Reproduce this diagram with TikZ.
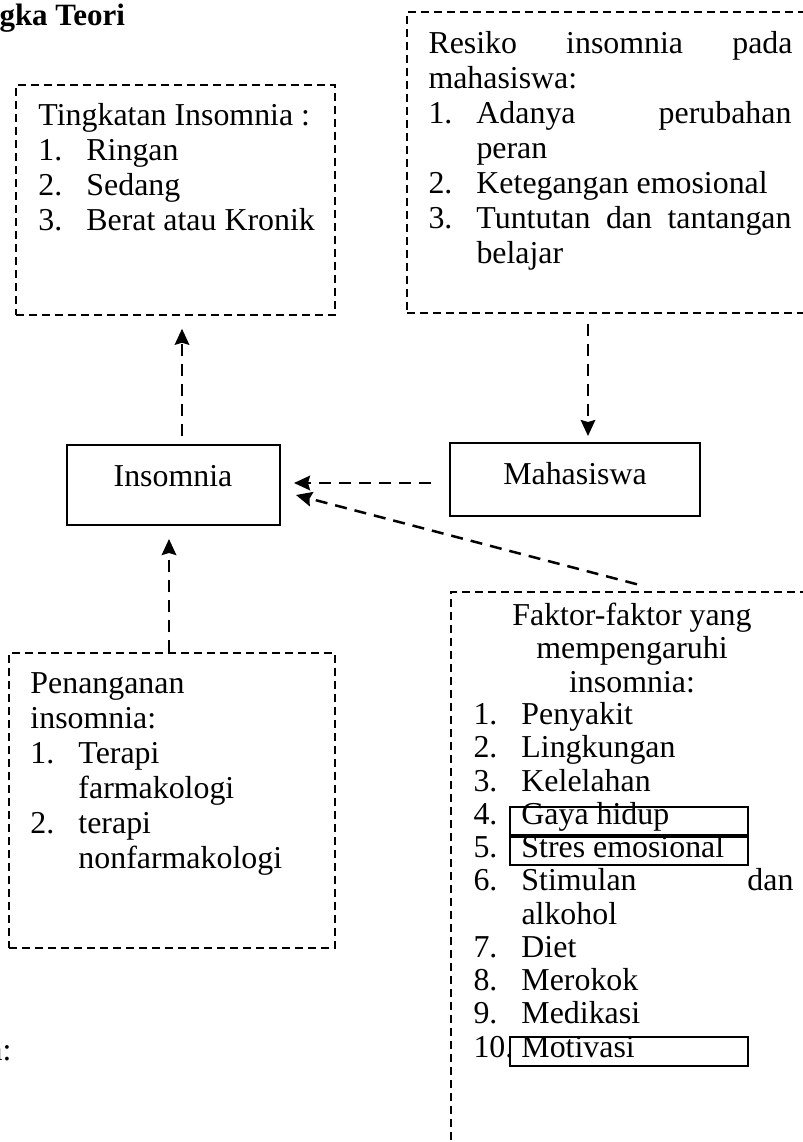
\documentclass[tikz,border=0pt]{standalone}
\usepackage{fontspec}
\setmainfont{Liberation Serif}
\usetikzlibrary{arrows.meta,fit}

\newcommand{\itm}[1]{\makebox[19.2pt][l]{#1}}
\newcommand{\ind}{\hspace*{19.2pt}}
\newcommand{\jline}[2]{\makebox[#1][s]{#2}}

\tikzset{
  dbox/.style={draw, dash pattern=on 3.2pt off 2pt, line width=0.6pt, inner sep=0pt},
  sbox/.style={draw, line width=0.8pt, inner sep=0pt},
  kbox/.style={draw, line width=0.5pt, inner sep=0pt},
  txt/.style={inner sep=0pt, align=left, anchor=base west, font=\fontsize{12.75}{14}\selectfont},
  arr/.style={-{Stealth[length=6.4pt,width=5.8pt,inset=0.8pt]}, line width=1pt, dash pattern=on 4.8pt off 3.2pt},
}

\begin{document}
\begin{tikzpicture}[x=0.4pt, y=-0.4pt]
\useasboundingbox (0,0) rectangle (802,1142);

% judul dan keterangan
\node[txt, font=\fontsize{12.4}{14}\selectfont\bfseries] (judul) at (-1,25) {gka Teori};
\node[txt, anchor=base east] (ket) at (12,1060) {n:};

% kotak putus-putus
\node[dbox, fit={(16,85) (335,315)}] (tingkat) {};
\node[dbox, fit={(407,12) (820,313)}] (resiko) {};
\node[dbox, fit={(9,653) (335,948)}] (penanganan) {};
\node[dbox, fit={(451,592) (820,1160)}] (faktor) {};

% kotak utama
\node[sbox, fit={(67,445) (280,525)}] (insomnia) {};
\node[sbox, fit={(450,443) (700,516)}] (mahasiswa) {};
\node[txt, anchor=base] (insomniaLbl) at (173,486) {Insomnia};
\node[txt, anchor=base] (mahasiswaLbl) at (575,484) {Mahasiswa};

% isi kotak (titik = garis dasar baris terakhir)
\node[txt] (tingkatTxt) at (38,230) {Tingkatan Insomnia :\\
  \itm{1.}Ringan\\
  \itm{2.}Sedang\\
  \itm{3.}Berat atau Kronik};

\node[txt] (resikoTxt) at (428,263) {\jline{145.6pt}{Resiko insomnia pada}\\
  mahasiswa:\\
  \itm{1.}\jline{126pt}{Adanya perubahan}\\
  \ind peran\\
  \itm{2.}Ketegangan emosional\\
  \itm{3.}\jline{126pt}{Tuntutan dan tantangan}\\
  \ind belajar};

\node[txt] (penangananTxt) at (30,868) {Penanganan\\
  insomnia:\\
  \itm{1.}Terapi\\
  \ind farmakologi\\
  \itm{2.}terapi\\
  \ind nonfarmakologi};

\node[txt, anchor=base, align=center, font=\fontsize{12.75}{13.4}\selectfont] (faktorHead) at (632,692) {Faktor-faktor yang\\
  mempengaruhi\\
  insomnia:};

\node[txt, font=\fontsize{12.75}{13.3}\selectfont] (faktorTxt) at (473,1057) {\itm{1.}Penyakit\\
  \itm{2.}Lingkungan\\
  \itm{3.}Kelelahan\\
  \itm{4.}Gaya hidup\\
  \itm{5.}Stres emosional\\
  \itm{6.}\jline{108.8pt}{Stimulan dan}\\
  \ind alkohol\\
  \itm{7.}Diet\\
  \itm{8.}Merokok\\
  \itm{9.}Medikasi\\
  \itm{10.}Motivasi};

% bingkai butir
\node[kbox, fit={(510,807) (748,835)}] (gaya) {};
\node[kbox, fit={(510,837) (748,865)}] (stres) {};
\node[kbox, fit={(510,1037) (748,1066)}] (motiv) {};

% panah
\draw[arr] ([shift={(8.5,-8)}]insomnia.north) -- ([shift={(6.5,13)}]tingkat.south);
\draw[arr] ([shift={(-25.5,10)}]resiko.south) -- ([shift={(13,-6)}]mahasiswa.north);
\draw[arr] ([shift={(-18,3.5)}]mahasiswa.west) -- ([shift={(13,-2)}]insomnia.east);
\draw[arr] ([shift={(1.5,-7)}]faktor.north) -- ([shift={(15,10)}]insomnia.east);
\draw[arr] ([shift={(-3,0)}]penanganan.north) -- ([shift={(-4.5,13)}]insomnia.south);
\end{tikzpicture}
\end{document}
